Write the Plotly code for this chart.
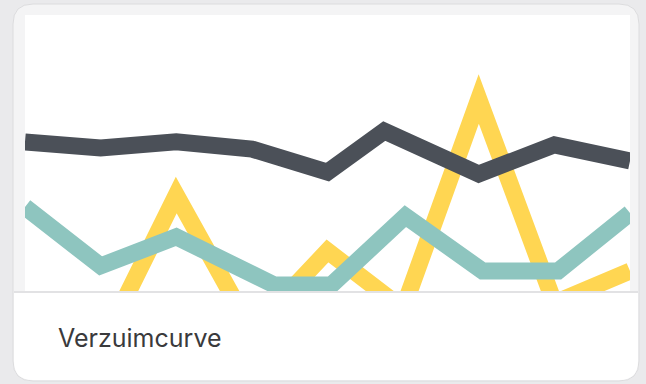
import plotly.graph_objects as go

# series values (0-100 scale, values below 0 run off the bottom of the card)
dark_x = [0, 1, 2, 3, 4, 4.75, 6, 7, 8]
dark_y = [54.2, 52.0, 54.2, 51.6, 43.3, 58.1, 42.6, 53.1, 47.3]

teal_x = [0, 1, 2, 3.3, 4.05, 5.03, 6.05, 7.05, 8]
teal_y = [30.7, 9.4, 19.9, 2.5, 2.5, 27.4, 7.6, 7.6, 28.5]

yellow_x = [0, 1, 2, 3, 4, 5, 6, 7, 8]
yellow_y = [-39.0, -20.2, 35.0, -14.1, 14.8, -6.1, 69.7, -4.0, 7.6]

title_text = "Verzuimcurve"

W, H = 646, 384
L, R, T, B = 25, 16, 15, 92
PW, PH = W - L - R, H - T - B


def px(x):
    return (x - L) / PW


def py(y):
    return (H - B - y) / PH


def rounded_rect(x0, y0, x1, y1, r, top=True, bottom=True):
    # pixel coords -> paper path, corners rounded with quadratic curves
    rt = r if top else 0
    rb = r if bottom else 0
    p = f"M{px(x0 + rt)},{py(y0)} L{px(x1 - rt)},{py(y0)} "
    p += f"Q{px(x1)},{py(y0)} {px(x1)},{py(y0 + rt)} "
    p += f"L{px(x1)},{py(y1 - rb)} "
    p += f"Q{px(x1)},{py(y1)} {px(x1 - rb)},{py(y1)} "
    p += f"L{px(x0 + rb)},{py(y1)} "
    p += f"Q{px(x0)},{py(y1)} {px(x0)},{py(y1 - rb)} "
    p += f"L{px(x0)},{py(y0 + rt)} "
    p += f"Q{px(x0)},{py(y0)} {px(x0 + rt)},{py(y0)} Z"
    return p


fig = go.Figure()

fig.add_trace(go.Scatter(x=yellow_x, y=yellow_y, mode="lines",
                         line=dict(color="#ffd652", width=17), hoverinfo="skip"))
fig.add_trace(go.Scatter(x=teal_x, y=teal_y, mode="lines",
                         line=dict(color="#8ec5bf", width=17), hoverinfo="skip"))
fig.add_trace(go.Scatter(x=dark_x, y=dark_y, mode="lines",
                         line=dict(color="#4b5058", width=17), hoverinfo="skip"))

shapes = [
    # card
    dict(type="path", path=rounded_rect(13, 4, 639, 381, 20),
         xref="paper", yref="paper",
         fillcolor="#f4f4f5", line=dict(color="#dcdcde", width=1), layer="below"),
    # white chart area
    dict(type="rect", x0=0, x1=1, y0=0, y1=1, xref="paper", yref="paper",
         fillcolor="white", line=dict(width=0), layer="below"),
    # footer
    dict(type="path", path=rounded_rect(14, 292, 638, 380, 19, top=False),
         xref="paper", yref="paper",
         fillcolor="white", line=dict(width=0), layer="below"),
    # divider
    dict(type="line", x0=px(14), x1=px(638), y0=py(292), y1=py(292),
         xref="paper", yref="paper", line=dict(color="#e2e2e4", width=2), layer="above"),
]

fig.update_layout(
    width=W, height=H,
    margin=dict(l=L, r=R, t=T, b=B),
    paper_bgcolor="#eaeaec",
    plot_bgcolor="white",
    showlegend=False,
    shapes=shapes,
    xaxis=dict(range=[0, 8], visible=False, fixedrange=True),
    yaxis=dict(range=[0, 100], visible=False, fixedrange=True),
    annotations=[dict(text=title_text, xref="paper", yref="paper",
                      x=px(56), y=py(338), xanchor="left", yanchor="middle",
                      showarrow=False,
                      font=dict(family="Inter", size=25, color="#3a3a3c"))],
)

# no page margin, and sharp (mitred) corners on the lines like the original;
# plotly caps the miter limit at 2, which bevels the yellow peaks
post = (
    "document.body.style.margin='0';"
    "document.querySelectorAll('path.js-line').forEach(function(p){"
    "p.style.strokeLinejoin='miter';p.style.strokeMiterlimit='10';});"
)
fig.write_html("out.html", config={"displayModeBar": False}, post_script=post)
